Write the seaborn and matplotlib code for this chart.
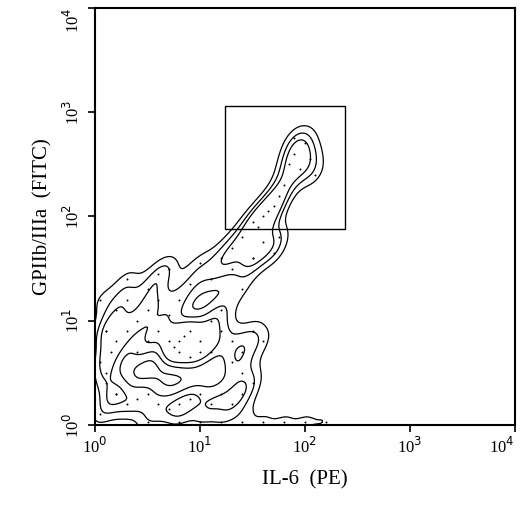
import matplotlib
matplotlib.use("Agg")
import matplotlib.pyplot as plt
import seaborn as sns
import pandas as pd
from matplotlib.patches import Rectangle

# event positions, log10 units (IL-6 PE, GPIIb/IIIa FITC)
il6 = [0.05,0.1,0.2,0.3,0.4,0.5,0.6,0.7,0.8,0.9,1.0,1.1,1.2,1.3,1.4,1.5,
       0.1,0.2,0.3,0.4,0.5,0.6,0.7,0.8,0.9,1.0,1.1,1.2,1.3,1.4,1.5,1.6,
       0.2,0.3,0.4,0.5,0.6,0.7,0.75,0.8,0.85,0.9,1.0,1.1,1.2,1.3,1.4,
       0.3,0.5,0.6,0.7,0.8,0.9,1.0,1.1,1.2,1.3,1.4,1.5,
       0.05,0.1,0.15,0.1,0.05,0.2,
       1.3,1.4,1.5,1.55,1.6,1.7,1.75,
       1.5,1.6,1.7,1.8,1.85,1.9,1.95,2.0,2.05,1.75,1.65,1.9,2.1,
       0.5,0.8,1.0,1.2,1.4,1.6,1.8,2.0,2.2]
gp = [0.6,0.4,0.3,0.2,0.25,0.3,0.2,0.15,0.2,0.25,0.3,0.2,0.3,0.2,0.3,0.4,
      0.9,0.8,0.9,0.7,0.8,0.9,0.8,0.7,0.9,0.8,0.7,0.9,0.8,0.7,0.9,0.8,
      1.1,1.2,1.0,1.1,1.2,1.05,0.75,0.8,0.85,0.65,0.7,1.0,1.1,0.6,0.5,
      1.4,1.3,1.45,1.5,1.2,1.35,1.55,1.4,1.6,1.5,1.3,1.6,
      0.1,0.9,0.7,0.5,1.2,0.3,
      1.7,1.8,1.6,1.9,1.75,1.65,1.8,
      1.95,2.0,2.1,2.3,2.5,2.6,2.45,2.7,2.55,2.2,2.05,2.75,2.4,
      0.03,0.03,0.03,0.03,0.03,0.03,0.03,0.03,0.03]
df = pd.DataFrame({"x": il6, "y": gp})

plt.rcParams['font.family'] = ['Liberation Serif', 'DejaVu Serif']
fig = plt.figure(figsize=(5.2, 5.22), dpi=100)
ax = fig.add_axes([0.183, 0.186, 0.807, 0.799])
sns.kdeplot(data=df, x="x", y="y", levels=[0.15, 0.35, 0.65], bw_adjust=0.4,
            color="black", linewidths=0.9, ax=ax)
sns.scatterplot(data=df, x="x", y="y", s=2, color="black", linewidth=0, ax=ax)
ax.add_patch(Rectangle((1.24, 1.875), 1.14, 1.185, fill=False, ec="black", lw=1))
ax.set_xlim(0, 4); ax.set_ylim(0, 4)
ticks = [0, 1, 2, 3, 4]
labs = ["10$^{%d}$" % t for t in ticks]
ax.set_xticks(ticks); ax.set_xticklabels(labs, fontsize=12)
ax.set_yticks(ticks); ax.set_yticklabels(labs, fontsize=12, rotation=90, va="center")
ax.get_xticklabels()[-1].set_ha("right")
ax.get_yticklabels()[-1].set_va("top")
ax.set_xlabel("IL-6  (PE)", fontsize=15, labelpad=10)
ax.set_ylabel("GPIIb/IIIa  (FITC)", fontsize=15, labelpad=8)
for s in ax.spines.values():
    s.set_linewidth(1.5)
ax.tick_params(width=1.2, length=5)
fig.savefig("out.png", dpi=100)
